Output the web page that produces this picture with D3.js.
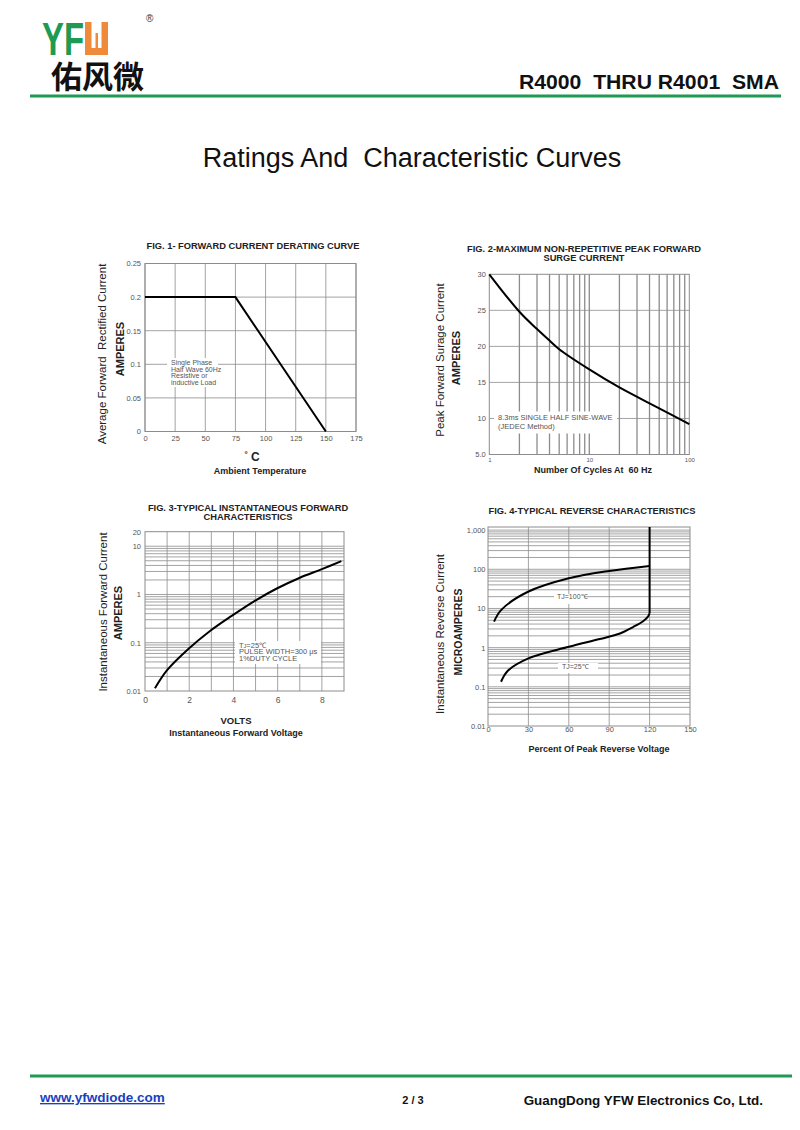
<!DOCTYPE html>
<html>
<head>
<meta charset="utf-8">
<script src="https://cdn.jsdelivr.net/npm/d3@7"></script>
<style>
body { margin: 0; background: #fff; }
text { font-family: "Liberation Sans", Arial, Helvetica, sans-serif; }
</style>
</head>
<body>
<div class="canvas"></div>
<script>
// values
const fig1Temp = [0, 75, 150];
const fig1Amps = [0.2, 0.2, 0];

const fig2Cycles = [1, 2, 3, 4, 5, 10, 20, 50, 100];
const fig2Amps = [30, 24.8, 22.4, 20.8, 19.6, 16.8, 14.3, 11.4, 9.2];

const fig3Volts = [0.45, 1, 1.96, 2.94, 3.92, 4.95, 5.96, 6.98, 8.0, 8.88];
const fig3Amps = [0.0114, 0.027, 0.074, 0.175, 0.36, 0.73, 1.33, 2.2, 3.35, 4.9];

const fig4Pct100 = [4.5, 9.7, 29.7, 60, 90, 120];
const fig4Ua100 = [4.6, 9.1, 26.7, 59, 91, 122];
const fig4Pct25 = [9.7, 14.9, 30, 60, 83, 98, 108, 115.4, 118.8, 120];
const fig4Ua25 = [0.135, 0.26, 0.53, 1.05, 1.66, 2.3, 3.4, 4.8, 6.2, 7.5];
const fig4BreakPct = [120, 120];
const fig4BreakUa = [7.5, 1200];

// tick labels
const fig1XTicks = [0, 25, 50, 75, 100, 125, 150, 175];
const fig1YTicks = [0, 0.05, 0.1, 0.15, 0.2, 0.25];
const fig1YLabels = ['0', '0.05', '0.1', '0.15', '0.2', '0.25'];
const fig2XTicks = [1, 10, 100];
const fig2YTicks = [5, 10, 15, 20, 25, 30];
const fig2YLabels = ['5.0', '10', '15', '20', '25', '30'];
const fig3XTicks = [0, 2, 4, 6, 8];
const fig3YTicks = [0.01, 0.1, 1, 10, 20];
const fig3YLabels = ['0.01', '0.1', '1', '10', '20'];
const fig4XTicks = [0, 30, 60, 90, 120, 150];
const fig4YTicks = [0.01, 0.1, 1, 10, 100, 1000];
const fig4YLabels = ['0.01', '0.1', '1', '10', '100', '1,000'];

const green = '#1f9a55';
const orange = '#ef8a3a';

const svg = d3.select('.canvas')
    .append('svg')
    .attr('width', 800)
    .attr('height', 1130);

svg.append('rect').attr('width', 800).attr('height', 1130).attr('fill', '#fff');

// ---- header ----
svg.append('text')
    .attr('x', 42).attr('y', 55)
    .attr('textLength', 42).attr('lengthAdjust', 'spacingAndGlyphs')
    .attr('font-size', 46).attr('font-weight', 'bold')
    .attr('fill', green)
    .text('YF');

// the orange "W" block of the logo
const logo = svg.append('g');
logo.append('rect').attr('x', 85).attr('y', 22).attr('width', 23).attr('height', 33).attr('fill', orange);
logo.append('rect').attr('x', 91.5).attr('y', 22).attr('width', 10).attr('height', 26).attr('fill', '#fff');
logo.append('rect').attr('x', 95.5).attr('y', 33).attr('width', 2.5).attr('height', 15).attr('fill', orange);

svg.append('text')
    .attr('x', 146).attr('y', 22)
    .attr('font-size', 10).attr('fill', '#333')
    .text('®');

svg.append('text')
    .attr('x', 51).attr('y', 88)
    .attr('font-size', 31).attr('font-weight', 'bold')
    .style('font-family', '"Noto Sans CJK SC", sans-serif')
    .attr('fill', '#111')
    .text('佑风微');

svg.append('text')
    .attr('x', 779).attr('y', 89)
    .attr('text-anchor', 'end')
    .attr('font-size', 20).attr('font-weight', 'bold')
    .attr('textLength', 260).attr('lengthAdjust', 'spacingAndGlyphs')
    .attr('fill', '#111')
    .style('white-space', 'pre')
    .text('R4000  THRU R4001  SMA');

svg.append('line')
    .attr('x1', 30).attr('x2', 781).attr('y1', 96).attr('y2', 96)
    .attr('stroke', green).attr('stroke-width', 3);

svg.append('text')
    .attr('x', 412).attr('y', 167)
    .attr('text-anchor', 'middle')
    .attr('font-size', 27)
    .attr('fill', '#111')
    .style('white-space', 'pre')
    .text('Ratings And  Characteristic Curves');

// ---- footer ----
svg.append('line')
    .attr('x1', 30).attr('x2', 792).attr('y1', 1076).attr('y2', 1076)
    .attr('stroke', green).attr('stroke-width', 3);

svg.append('text')
    .attr('x', 40).attr('y', 1102)
    .attr('font-size', 13.5).attr('font-weight', 'bold')
    .attr('fill', '#1a3fbf')
    .attr('text-decoration', 'underline')
    .text('www.yfwdiode.com');

svg.append('text')
    .attr('x', 413).attr('y', 1104)
    .attr('text-anchor', 'middle')
    .attr('font-size', 11).attr('font-weight', 'bold')
    .attr('fill', '#111')
    .text('2 / 3');

svg.append('text')
    .attr('x', 763).attr('y', 1105)
    .attr('text-anchor', 'end')
    .attr('font-size', 13.4).attr('font-weight', 'bold')
    .attr('fill', '#111')
    .text('GuangDong YFW Electronics Co, Ltd.');

// ---- one chart panel: grid, notes, frame, axes, curves ----
const panel = (o) => {
    const g = svg.append('g');
    const [x0, x1] = o.x.range();
    const [y0, y1] = o.y.range();

    g.append('g').selectAll('line')
        .data(o.xGrid)
        .join('line')
        .attr('x1', d => o.x(d)).attr('x2', d => o.x(d))
        .attr('y1', y0).attr('y2', y1)
        .attr('stroke', '#8c8c8c').attr('stroke-width', o.xGridWidth || 0.8);

    g.append('g').selectAll('line')
        .data(o.yGrid)
        .join('line')
        .attr('x1', x0).attr('x2', x1)
        .attr('y1', d => o.y(d)).attr('y2', d => o.y(d))
        .attr('stroke', '#8c8c8c').attr('stroke-width', 0.8);

    // white boxes behind the notes cut the grid
    (o.notes || []).forEach(n => {
        g.append('rect')
            .attr('x', n.box[0]).attr('y', n.box[1])
            .attr('width', n.box[2]).attr('height', n.box[3])
            .attr('fill', '#fff');
        const t = g.append('text')
            .attr('font-size', n.size || 7.5)
            .attr('fill', '#555');
        n.lines.forEach((l, i) => {
            const ts = t.append('tspan')
                .attr('x', n.x).attr('y', n.y + i * (n.gap || 6.8));
            if (Array.isArray(l)) {
                // T with a small J
                ts.append('tspan').text(l[0]);
                ts.append('tspan').attr('font-size', 5.5).text(l[1]);
                ts.append('tspan').text(l[2]);
            } else {
                ts.text(l);
            }
        });
    });

    g.append('rect')
        .attr('x', x0).attr('y', y1)
        .attr('width', x1 - x0).attr('height', y0 - y1)
        .attr('fill', 'none')
        .attr('stroke', '#8c8c8c').attr('stroke-width', 1);

    const xAxis = g.append('g')
        .attr('transform', `translate(0,${y0})`)
        .call(d3.axisBottom(o.x)
            .tickValues(o.xTicks)
            .tickFormat(d => d)
            .tickSize(0)
            .tickPadding(o.xPad));
    const yAxis = g.append('g')
        .attr('transform', `translate(${x0},0)`)
        .call(d3.axisLeft(o.y)
            .tickValues(o.yTicks)
            .tickFormat((d, i) => o.yLabels[i])
            .tickSize(0)
            .tickPadding(o.yPad));
    [xAxis, yAxis].forEach(a => {
        a.select('.domain').remove();
        a.selectAll('text')
            .attr('fill', '#555')
            .style('font-family', '"Liberation Sans", Arial, sans-serif');
    });
    xAxis.selectAll('text').attr('font-size', o.xTickSize || 7.5);
    yAxis.selectAll('text').attr('font-size', o.yTickSize || 7.5);

    o.curves.forEach(c => {
        const pts = c.xs.map((v, i) => [v, c.ys[i]]);
        g.append('path')
            .attr('d', d3.line()
                .x(d => o.x(d[0]))
                .y(d => o.y(d[1]))
                .curve(c.curve || d3.curveLinear)(pts))
            .attr('fill', 'none')
            .attr('stroke', '#000')
            .attr('stroke-width', 2);
    });

    // titles and axis names
    o.title.forEach((t, i) => {
        g.append('text')
            .attr('x', o.titleX).attr('y', o.titleY + i * 9)
            .attr('text-anchor', 'middle')
            .attr('font-size', 9.3).attr('font-weight', 'bold')
            .attr('fill', '#222')
            .text(t);
    });
    o.xNames.forEach(n => {
        const t = g.append('text')
            .attr('x', n.x).attr('y', n.y)
            .attr('text-anchor', 'middle')
            .attr('font-size', n.size || 9).attr('font-weight', 'bold')
            .attr('fill', '#222')
            .style('white-space', 'pre');
        if (n.deg) {
            t.append('tspan').attr('font-size', 8).attr('dy', -4).text('°');
            t.append('tspan').attr('dy', 4).text(n.text);
        } else {
            t.text(n.text);
        }
    });
    o.yNames.forEach(n => {
        g.append('text')
            .attr('transform', `translate(${n.x},${n.y}) rotate(-90)`)
            .attr('text-anchor', 'middle')
            .attr('font-size', n.size || 11.5)
            .attr('font-weight', n.bold ? 'bold' : 'normal')
            .attr('fill', '#222')
            .style('white-space', 'pre')
            .text(n.text);
    });
};

// FIG. 1
const x1s = d3.scaleLinear().domain([0, 175]).range([145, 356]);
const y1s = d3.scaleLinear().domain([0, 0.25]).range([431.5, 263.5]);
panel({
    x: x1s, y: y1s,
    xGrid: fig1XTicks, yGrid: fig1YTicks,
    xTicks: fig1XTicks, yTicks: fig1YTicks, yLabels: fig1YLabels,
    xPad: 4, yPad: 4,
    notes: [{ x: 171, y: 365, box: [167, 358, 51, 29],
        lines: ['Single Phase', 'Half Wave 60Hz', 'Resistive or', 'inductive Load'], size: 7, gap: 6.7 }],
    curves: [{ xs: fig1Temp, ys: fig1Amps }],
    title: ['FIG. 1- FORWARD CURRENT DERATING CURVE'], titleX: 253, titleY: 249,
    xNames: [{ text: ' C', deg: true, x: 252, y: 461, size: 12 }, { text: 'Ambient Temperature', x: 260, y: 474 }],
    yNames: [{ text: 'Average Forward  Rectified Current', x: 106, y: 354 },
        { text: 'AMPERES', x: 124, y: 349, bold: true, size: 11 }]
});

// FIG. 2
const x2s = d3.scaleLog().domain([1, 100]).range([489.3, 689.3]);
const y2s = d3.scaleLinear().domain([5, 30]).range([454.5, 274.3]);
panel({
    x: x2s, y: y2s,
    xGrid: x2s.ticks().filter(d => d > 1 && d < 100), xGridWidth: 1.3,
    yGrid: fig2YTicks.slice(1, -1),
    xTicks: fig2XTicks, yTicks: fig2YTicks, yLabels: fig2YLabels,
    xPad: 3.5, yPad: 3.5, xTickSize: 6,
    notes: [{ x: 498, y: 419.5, box: [494, 411.5, 123, 22],
        lines: ['8.3ms SINGLE HALF SINE-WAVE', '(JEDEC Method)'], size: 7.5, gap: 9 }],
    curves: [{ xs: fig2Cycles, ys: fig2Amps, curve: d3.curveCatmullRom }],
    title: ['FIG. 2-MAXIMUM NON-REPETITIVE PEAK FORWARD', 'SURGE CURRENT'], titleX: 584, titleY: 252,
    xNames: [{ text: 'Number Of Cycles At  60 Hz', x: 593, y: 473 }],
    yNames: [{ text: 'Peak Forward Surage Current', x: 444, y: 360 },
        { text: 'AMPERES', x: 460, y: 358, bold: true, size: 11 }]
});

// FIG. 3
const x3s = d3.scaleLinear().domain([0, 9]).range([145, 344]);
const y3s = d3.scaleLog().domain([0.01, 20]).range([691, 531.7]);
panel({
    x: x3s, y: y3s,
    xGrid: d3.range(1, 9), yGrid: y3s.ticks().filter(d => d > 0.01 && d < 20),
    xTicks: fig3XTicks, yTicks: fig3YTicks, yLabels: fig3YLabels,
    xPad: 5.5, yPad: 4, xTickSize: 8.5,
    notes: [{ x: 239, y: 647.5, box: [235, 641, 86, 23],
        lines: [['T', 'J', '=25℃'], 'PULSE WIDTH=300 μs', '1%DUTY CYCLE'], size: 7.5, gap: 6.8 }],
    curves: [{ xs: fig3Volts, ys: fig3Amps, curve: d3.curveCatmullRom }],
    title: ['FIG. 3-TYPICAL INSTANTANEOUS FORWARD', 'CHARACTERISTICS'], titleX: 248, titleY: 511,
    xNames: [{ text: 'VOLTS', x: 236, y: 723.5, size: 9.5 }, { text: 'Instantaneous Forward Voltage', x: 236, y: 735.5 }],
    yNames: [{ text: 'Instantaneous Forward Current', x: 107, y: 612 },
        { text: 'AMPERES', x: 122, y: 613, bold: true, size: 11 }]
});

// FIG. 4
const x4s = d3.scaleLinear().domain([0, 150]).range([488, 690]);
const y4s = d3.scaleLog().domain([0.01, 1200]).range([726, 527]);
panel({
    x: x4s, y: y4s,
    xGrid: [30, 60, 90, 120], yGrid: y4s.ticks().filter(d => d > 0.01),
    xTicks: fig4XTicks, yTicks: fig4YTicks, yLabels: fig4YLabels,
    xPad: 1, yPad: 2.5,
    notes: [
        { x: 557, y: 599, box: [554, 594, 30, 10], lines: ['TJ=100℃'], size: 7 },
        { x: 562, y: 669, box: [558, 663, 40, 10], lines: ['TJ=25℃'], size: 7 }
    ],
    curves: [
        { xs: fig4Pct100, ys: fig4Ua100, curve: d3.curveCatmullRom },
        { xs: fig4Pct25, ys: fig4Ua25, curve: d3.curveCatmullRom },
        { xs: fig4BreakPct, ys: fig4BreakUa }
    ],
    title: ['FIG. 4-TYPICAL REVERSE CHARACTERISTICS'], titleX: 592, titleY: 514,
    xNames: [{ text: 'Percent Of Peak Reverse Voltage', x: 599, y: 751.5 }],
    yNames: [{ text: 'Instantaneous Reverse Current', x: 444, y: 634 },
        { text: 'MICROAMPERES', x: 462, y: 632, bold: true, size: 10.5 }]
});
</script>
</body>
</html>
